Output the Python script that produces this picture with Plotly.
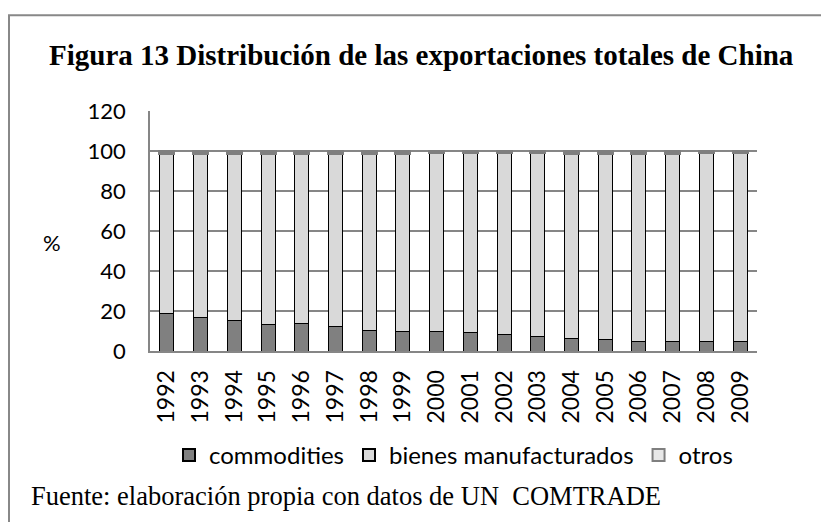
import plotly.graph_objects as go

years = ["1992", "1993", "1994", "1995", "1996", "1997", "1998", "1999", "2000",
         "2001", "2002", "2003", "2004", "2005", "2006", "2007", "2008", "2009"]
commodities = [19.0, 17.0, 15.3, 13.5, 13.6, 12.3, 10.5, 9.7, 9.8,
               9.3, 8.5, 7.5, 6.5, 6.0, 5.0, 4.7, 5.0, 4.9]
bienes = [79.8, 81.8, 83.5, 85.3, 85.2, 86.5, 88.3, 89.1, 89.3,
          89.8, 90.6, 91.6, 92.2, 92.7, 93.7, 94.0, 94.1, 94.2]
otros = [1.2, 1.2, 1.2, 1.2, 1.2, 1.2, 1.2, 1.2, 0.9,
         0.9, 0.9, 0.9, 1.3, 1.3, 1.3, 1.3, 0.9, 0.9]
y_ticks = [0, 20, 40, 60, 80, 100, 120]

SANS = "Lato, Liberation Sans, sans-serif"
SERIF = "Liberation Serif, Times New Roman, serif"

fig = go.Figure()
fig.add_trace(go.Bar(x=years, y=commodities, name="commodities",
                     marker=dict(color="#808080", line=dict(color="#000000", width=1))))
fig.add_trace(go.Bar(x=years, y=bienes, name="bienes manufacturados",
                     marker=dict(color="#d9d9d9", line=dict(color="#000000", width=1))))
fig.add_trace(go.Bar(x=years, y=otros, name="otros",
                     marker=dict(color="#e8e8e8", line=dict(color="#7f7f7f", width=3))))

fig.update_layout(
    width=821, height=514,
    margin=dict(l=142, r=72, t=103, b=171),
    paper_bgcolor="white", plot_bgcolor="white",
    barmode="stack", bargap=0.585,
    showlegend=True,
    legend=dict(orientation="h", x=0.5, xanchor="center", y=-0.435, yanchor="middle",
                font=dict(family=SANS, size=24, color="#000000"),
                traceorder="normal", itemsizing="constant"),
    font=dict(family=SANS, color="#000000"),
)
fig.update_yaxes(range=[0, 120], tickvals=y_ticks, showgrid=True,
                 gridcolor="#868686", gridwidth=1.8,
                 showline=True, linecolor="#868686", linewidth=1.8,
                 zeroline=False, ticks="", ticklabelstandoff=18,
                 tickfont=dict(family=SANS, size=22, color="#000000"))
fig.update_xaxes(type="category", tickangle=-90, showline=True,
                 linecolor="#868686", linewidth=1.8, ticks="",
                 ticklabelstandoff=8,
                 tickfont=dict(family=SANS, size=23, color="#000000"))

fig.add_annotation(text="<b>Figura 13 Distribución de las exportaciones totales de China</b>",
                   xref="paper", yref="paper", x=0.448, y=1.232,
                   xanchor="center", yanchor="middle", showarrow=False,
                   font=dict(family=SERIF, size=29, color="#000000"))
fig.add_annotation(text="%", xref="paper", yref="paper", x=-0.161, y=0.453,
                   xanchor="center", yanchor="middle", showarrow=False,
                   font=dict(family=SANS, size=22, color="#000000"))
fig.add_annotation(text="Fuente: elaboración propia con datos de UN  COMTRADE",
                   xref="paper", yref="paper", x=-0.1993, y=-0.605,
                   xanchor="left", yanchor="middle", showarrow=False,
                   font=dict(family=SERIF, size=26.5, color="#000000"))
fig.add_shape(type="rect", xref="paper", yref="paper",
              x0=-0.2323, x1=1.3, y0=-0.95, y1=1.399,
              line=dict(color="#888888", width=2), fillcolor="rgba(0,0,0,0)", layer="above")

fig.write_html("out.html")
